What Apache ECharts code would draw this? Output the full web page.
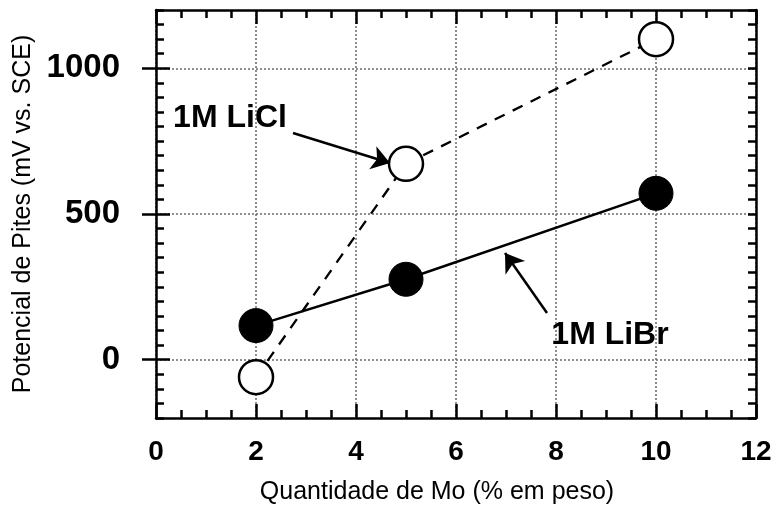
<!DOCTYPE html>
<html><head><meta charset="utf-8">
<script src="https://cdn.jsdelivr.net/npm/echarts@6/dist/echarts.min.js"></script>
<style>html,body{margin:0;padding:0;background:#fff}#c{width:772px;height:508px}</style>
</head><body><div id="c"></div>
<script>
// ---- data ----
const moPercent = [2, 5, 10];
const liclPotential = [-60, 672, 1100];
const librPotential = [117, 276, 571];
const xTickValues = [0, 2, 4, 6, 8, 10, 12];
const yTickValues = [0, 500, 1000];
const seriesNames = ['1M LiCl', '1M LiBr'];

const FONT = '"Liberation Sans", Arial, Helvetica, sans-serif';
const BLACK = '#000';
const axisLine = {show: true, onZero: false, lineStyle: {color: BLACK, width: 2.5}};
const majorTick = {show: true, inside: true, length: 14, lineStyle: {color: BLACK, width: 2.5}};
const minorTickY = {show: true, inside: true, length: 8, lineStyle: {color: BLACK, width: 2.5}};
const gridLine = {show: true, lineStyle: {color: '#6a6a6a', width: 1.5, type: [2, 2]}};

const chart = echarts.init(document.getElementById('c'), null, {renderer: 'canvas'});
chart.setOption({
  animation: false,
  backgroundColor: '#fff',
  grid: {left: 156, right: 16, top: 10, bottom: 90, containLabel: false, outerBoundsMode: 'none'},
  xAxis: [
    {
      type: 'value', position: 'bottom', min: xTickValues[0], max: xTickValues[xTickValues.length - 1], interval: 2,
      axisLine: axisLine, axisTick: majorTick,
      minorTick: {show: true, splitNumber: 4, length: 8, lineStyle: {color: BLACK, width: 2.5}},
      axisLabel: {margin: 20, fontSize: 28, fontWeight: 'bold', color: BLACK, fontFamily: FONT},
      splitLine: gridLine,
      name: 'Quantidade de Mo (% em peso)', nameLocation: 'middle', nameGap: 62,
      nameTextStyle: {fontSize: 25, color: BLACK, fontFamily: FONT, padding: [0, 38, 0, 0]}
    },
    {
      type: 'value', position: 'top', min: xTickValues[0], max: xTickValues[xTickValues.length - 1], interval: 2,
      axisLine: axisLine, axisTick: majorTick,
      minorTick: {show: true, splitNumber: 4, length: 8, lineStyle: {color: BLACK, width: 2.5}},
      axisLabel: {show: false}, splitLine: {show: false}
    }
  ],
  yAxis: [
    {
      type: 'value', position: 'left', min: -200, max: 1200, interval: 50,
      axisLine: axisLine, axisTick: minorTickY,
      axisLabel: {margin: 36, fontSize: 33, fontWeight: 'bold', color: BLACK, fontFamily: FONT, padding: [0, 0, 8, 0],
        formatter: v => (yTickValues.indexOf(v) >= 0 ? String(v) : '')},
      splitLine: {show: false},
      name: 'Potencial de Pites (mV vs. SCE)', nameLocation: 'middle', nameGap: 119, nameRotate: 90,
      nameTextStyle: {fontSize: 25, color: BLACK, fontFamily: FONT}
    },
    {
      type: 'value', position: 'left', min: -200, max: 1200,
      axisLine: {show: false},
      axisTick: Object.assign({customValues: yTickValues}, majorTick),
      axisLabel: {show: false, customValues: yTickValues},
      splitLine: gridLine
    },
    {
      type: 'value', position: 'right', min: -200, max: 1200, interval: 50,
      axisLine: axisLine, axisTick: minorTickY, axisLabel: {show: false}, splitLine: {show: false}
    },
    {
      type: 'value', position: 'right', min: -200, max: 1200,
      axisLine: {show: false},
      axisTick: Object.assign({customValues: yTickValues}, majorTick),
      axisLabel: {show: false, customValues: yTickValues}, splitLine: {show: false}
    }
  ],
  series: [
    {
      name: seriesNames[0], type: 'line', xAxisIndex: 0, yAxisIndex: 0, z: 3,
      data: moPercent.map((x, i) => [x, liclPotential[i]]),
      symbol: 'circle', symbolSize: 34, showSymbol: true,
      itemStyle: {color: '#fff', borderColor: BLACK, borderWidth: 2.5},
      lineStyle: {color: BLACK, width: 2.3, type: [11, 9]},
      markLine: {
        silent: true, symbol: ['none', 'arrow'], symbolSize: 18,
        label: {show: false},
        itemStyle: {color: BLACK},
        lineStyle: {color: BLACK, width: 2.5, type: 'solid'},
        data: [[{coord: [2.74, 778]}, {coord: [4.68, 675]}]]
      },
      markPoint: {
        silent: true, symbol: 'circle', symbolSize: 1, itemStyle: {color: 'rgba(0,0,0,0)'},
        label: {show: true, position: 'inside', formatter: seriesNames[0], fontSize: 32, fontWeight: 'bold', color: BLACK, fontFamily: FONT},
        data: [{coord: [1.48, 830]}]
      }
    },
    {
      name: seriesNames[1], type: 'line', xAxisIndex: 0, yAxisIndex: 0, z: 4,
      data: moPercent.map((x, i) => [x, librPotential[i]]),
      symbol: 'circle', symbolSize: 34, showSymbol: true,
      itemStyle: {color: BLACK, borderColor: BLACK, borderWidth: 1},
      lineStyle: {color: BLACK, width: 2.5, type: 'solid'},
      markLine: {
        silent: true, symbol: ['none', 'arrow'], symbolSize: 18,
        label: {show: false},
        itemStyle: {color: BLACK},
        lineStyle: {color: BLACK, width: 2.5, type: 'solid'},
        data: [[{coord: [7.82, 160]}, {coord: [6.98, 366]}]]
      },
      markPoint: {
        silent: true, symbol: 'circle', symbolSize: 1, itemStyle: {color: 'rgba(0,0,0,0)'},
        label: {show: true, position: 'inside', formatter: seriesNames[1], fontSize: 32, fontWeight: 'bold', color: BLACK, fontFamily: FONT},
        data: [{coord: [9.08, 85]}]
      }
    }
  ]
});
</script></body></html>
